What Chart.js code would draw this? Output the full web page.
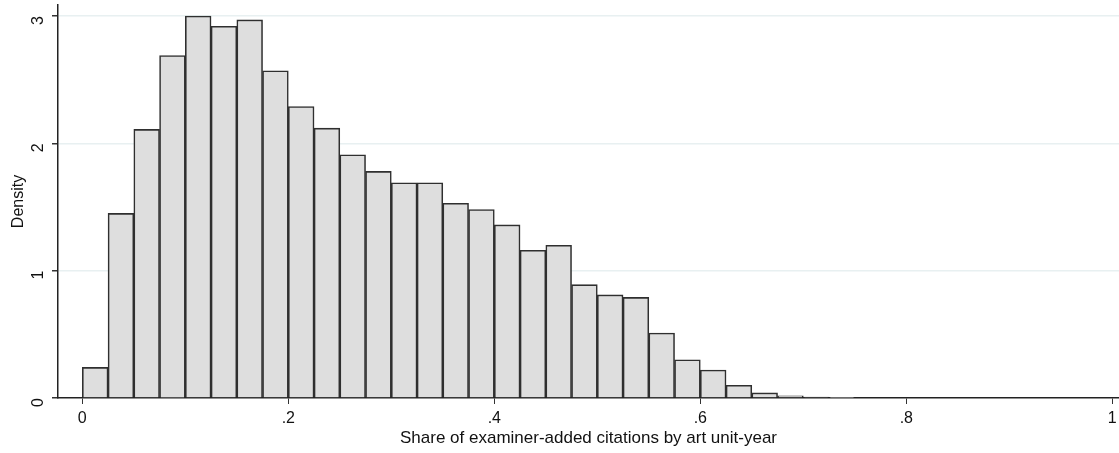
<!DOCTYPE html>
<html>
<head>
<meta charset="utf-8">
<script src="https://cdn.jsdelivr.net/npm/chart.js@4"></script>
<style>
  html, body { margin: 0; padding: 0; background: #fff; }
  #wrap { width: 1119px; height: 453px; }
</style>
</head>
<body>
<div id="wrap"><canvas id="hist" width="1119" height="453"></canvas></div>
<script>
// bin lower edges (width .025)
const binStarts = [0, 0.025, 0.05, 0.075, 0.1, 0.125, 0.15, 0.175, 0.2, 0.225,
  0.25, 0.275, 0.3, 0.325, 0.35, 0.375, 0.4, 0.425, 0.45, 0.475,
  0.5, 0.525, 0.55, 0.575, 0.6, 0.625, 0.65, 0.675, 0.7, 0.725];
const density = [0.24, 1.45, 2.11, 2.69, 3.0, 2.92, 2.97, 2.57, 2.29, 2.12,
  1.91, 1.78, 1.69, 1.69, 1.53, 1.48, 1.36, 1.16, 1.2, 0.89,
  0.81, 0.79, 0.51, 0.3, 0.22, 0.1, 0.04, 0.018, 0.008, 0.005];
const xTicks = [0, 0.2, 0.4, 0.6, 0.8, 1];
const yTicks = [0, 1, 2, 3];

const binWidth = 0.025;
const points = binStarts.map((b, i) => ({ x: b + binWidth / 2, y: density[i] }));

const font = { family: 'Liberation Sans, Arial, sans-serif', size: 16 };

new Chart(document.getElementById('hist'), {
  type: 'bar',
  data: {
    datasets: [{
      label: 'Density',
      data: points,
      backgroundColor: '#dedede',
      borderColor: '#2f2f2f',
      borderWidth: 1.6,
      barPercentage: 1,
      categoryPercentage: 1
    }]
  },
  options: {
    responsive: false,
    animation: false,
    layout: { padding: { top: 5, right: 0, left: 0, bottom: 0 } },
    plugins: { legend: { display: false }, tooltip: { enabled: false } },
    scales: {
      x: {
        type: 'linear',
        offset: false,
        min: -0.0236,
        max: 1.0065,
        afterBuildTicks: (s) => { s.ticks = xTicks.map(v => ({ value: v })); },
        afterFit: (s) => { s.height = 55; s.paddingLeft = 0; s.paddingRight = 0; },
        ticks: {
          color: '#111',
          font: font,
          padding: 5,
          maxRotation: 0,
          callback: (v) => v === 0 || v === 1 ? String(v) : String(v).replace(/^0/, '')
        },
        grid: { offset: false, drawOnChartArea: false, tickLength: 6, tickColor: '#333' },
        border: { color: '#222', width: 1.5 },
        title: {
          display: true,
          text: 'Share of examiner-added citations by art unit-year',
          color: '#111',
          font: { family: font.family, size: 17 },
          padding: { top: 0, bottom: 4 }
        }
      },
      y: {
        min: 0,
        max: 3.087,
        afterBuildTicks: (s) => { s.ticks = yTicks.map(v => ({ value: v })); },
        afterFit: (s) => { s.width = 58; s.paddingTop = 0; s.paddingBottom = 0; },
        ticks: {
          color: '#111',
          font: font,
          padding: 13,
          minRotation: 90,
          maxRotation: 90
        },
        grid: {
          color: (ctx) => ctx.tick && ctx.tick.value === 0 ? 'rgba(0,0,0,0)' : '#e8f0f1',
          lineWidth: 1.5,
          tickLength: 6,
          tickColor: '#333'
        },
        border: { color: '#222', width: 1.5 },
        title: {
          display: true,
          text: 'Density',
          color: '#111',
          font: font,
          padding: { top: 9, bottom: 0 }
        }
      }
    }
  }
});
</script>
</body>
</html>
